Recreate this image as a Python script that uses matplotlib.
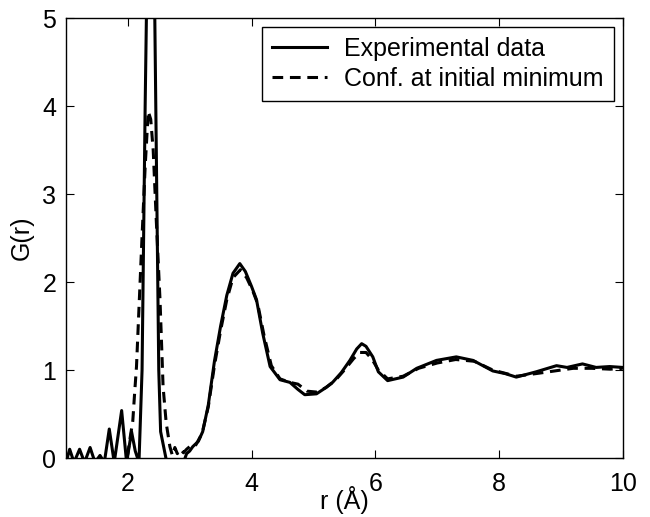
import matplotlib
matplotlib.use("Agg")
import numpy as np
import matplotlib.pyplot as plt

plt.rcParams['font.family'] = ['Liberation Sans', 'DejaVu Sans']
plt.rcParams['font.size'] = 18

# Experimental data (solid)
r_exp = [1.00, 1.06, 1.13, 1.22, 1.30, 1.39, 1.47, 1.55, 1.62, 1.70, 1.78, 1.90,
         1.98, 2.06, 2.12, 2.18, 2.23, 2.28, 2.32, 2.37, 2.42, 2.46, 2.50, 2.53,
         2.63, 2.75, 2.90, 2.95, 3.00, 3.05, 3.14, 3.21, 3.30, 3.40, 3.50, 3.60,
         3.70, 3.81, 3.90, 4.00, 4.08, 4.18, 4.30, 4.46, 4.62, 4.75, 4.86, 5.05,
         5.20, 5.31, 5.45, 5.59, 5.70, 5.78, 5.85, 5.96, 6.05, 6.20, 6.45, 6.67,
         6.99, 7.31, 7.58, 7.90, 8.10, 8.28, 8.60, 8.93, 9.10, 9.35, 9.57, 9.79, 10.0]
g_exp = [-0.05, 0.10, -0.05, 0.10, -0.05, 0.12, -0.05, 0.03, -0.05, 0.33, -0.05, 0.54,
         -0.05, 0.30, 0.08, -0.05, 1.00, 4.00, 6.00, 6.80, 6.00, 3.50, 1.00, 0.30,
         -0.05, -0.10, -0.05, 0.05, 0.08, 0.13, 0.19, 0.30, 0.60, 1.10, 1.50, 1.85,
         2.10, 2.21, 2.12, 1.95, 1.80, 1.42, 1.04, 0.89, 0.86, 0.78, 0.72, 0.73,
         0.80, 0.86, 0.97, 1.11, 1.24, 1.30, 1.27, 1.15, 0.98, 0.88, 0.92, 1.02,
         1.11, 1.15, 1.11, 0.99, 0.96, 0.92, 0.98, 1.05, 1.03, 1.07, 1.03, 1.04, 1.03]

# Configuration at initial minimum (dashed)
r_conf = [1.00, 1.95, 2.00, 2.03, 2.08, 2.11, 2.14, 2.18, 2.22, 2.28, 2.33, 2.37,
          2.41, 2.46, 2.52, 2.57, 2.62, 2.68, 2.72, 2.76, 2.80, 2.85, 2.90, 2.95,
          3.00, 3.05, 3.10, 3.20, 3.30, 3.40, 3.50, 3.60, 3.70, 3.82, 3.92, 4.02,
          4.10, 4.20, 4.32, 4.46, 4.62, 4.75, 4.90, 5.05, 5.20, 5.35, 5.50, 5.65,
          5.75, 5.85, 5.95, 6.05, 6.20, 6.45, 6.70, 7.00, 7.30, 7.60, 7.90, 8.28,
          8.60, 8.90, 9.20, 9.50, 9.80, 10.0]
g_conf = [-0.10, -0.10, 0.05, 0.20, 0.42, 0.74, 1.04, 1.70, 2.36, 3.31, 3.94, 3.85,
          3.50, 2.70, 1.80, 0.81, 0.40, 0.13, 0.03, 0.12, 0.05, 0.10, 0.06, 0.10,
          0.13, 0.12, 0.15, 0.28, 0.58, 1.05, 1.45, 1.80, 2.05, 2.14, 2.05, 1.90,
          1.75, 1.40, 1.05, 0.90, 0.86, 0.84, 0.76, 0.75, 0.80, 0.88, 1.00, 1.13,
          1.20, 1.20, 1.12, 1.00, 0.90, 0.93, 1.02, 1.08, 1.12, 1.10, 1.00, 0.93,
          0.96, 0.99, 1.02, 1.02, 1.01, 1.02]

fig = plt.figure(figsize=(6.5, 5.17), dpi=100)
ax = fig.add_axes([0.1015, 0.114, 0.8565, 0.851])

ax.plot(r_exp, g_exp, color='black', linewidth=2.2, label='Experimental data')
ax.plot(r_conf, g_conf, color='black', linewidth=2.2, linestyle=(0, (3.5, 2.2)),
        label='Conf. at initial minimum')

ax.set_xlim(1, 10)
ax.set_ylim(0, 5)
ax.set_xticks([2, 4, 6, 8, 10])
ax.set_yticks([0, 1, 2, 3, 4, 5])
ax.tick_params(direction='in', top=True, right=True, length=6, width=0.8)
ax.tick_params(axis='x', pad=10)
ax.tick_params(axis='y', pad=7)
for s in ax.spines.values():
    s.set_linewidth(1.0)

ax.set_xlabel('r (Å)', labelpad=-7)
ax.set_ylabel('G(r)', labelpad=6)

leg = ax.legend(loc='upper right', handlelength=2.2, borderaxespad=0.35,
                fancybox=False, framealpha=1, edgecolor='black',
                borderpad=0.4, labelspacing=0.25, handletextpad=0.7)
leg.get_frame().set_linewidth(1.0)

plt.savefig('out.png', dpi=100)
